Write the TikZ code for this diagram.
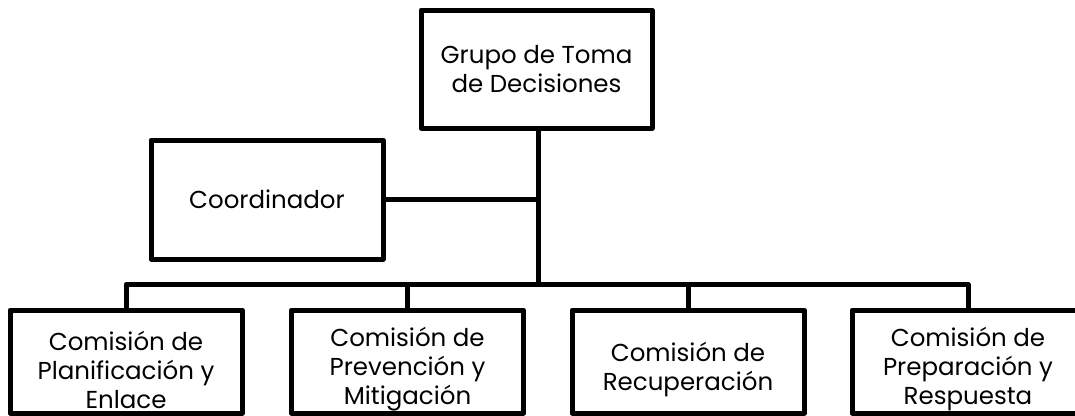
\documentclass[tikz,border=0pt]{standalone}
\usepackage{fontspec}
\setmainfont{Poppins}
\begin{document}
\begin{tikzpicture}[x=1pt,y=-1pt,
  box/.style={draw=black,line width=5pt,line join=round,fill=white,inner sep=0pt,align=center,
    font=\fontsize{24.5}{29}\selectfont},
  txt/.style={inner sep=0pt,align=center,font=\fontsize{24.5}{29}\selectfont},
  link/.style={draw=black,line width=5pt,line join=round}]
\useasboundingbox (0,0) rectangle (1075,415);
\node[box,minimum width=231pt,minimum height=118pt] (top) at (536.5,69) {Grupo de Toma\\de Decisiones};
\node[box,minimum width=232pt,minimum height=119pt] (coord) at (267,199.5) {Coordinador};
\node[box,minimum width=232pt,minimum height=103pt] (c1) at (126,361.5) {};
\node[box,minimum width=232pt,minimum height=103pt] (c2) at (407.5,361.5) {};
\node[box,minimum width=232pt,minimum height=103pt] (c3) at (688,361.5) {};
\node[box,minimum width=232pt,minimum height=103pt] (c4) at (968,361.5) {};
\node[txt] (t1) at ([yshift=-8pt]c1.center) {Comisión de\\Planificación y\\Enlace};
\node[txt] (t2) at ([yshift=-8pt]c2.center) {Comisión de\\Prevención y\\Mitigación};
\node[txt] (t3) at ([yshift=-8pt]c3.center) {Comisión de\\Recuperación};
\node[txt] (t4) at ([yshift=-8pt]c4.center) {Comisión de\\Preparación y\\Respuesta};
\coordinate (bus) at (538,284.5);
\draw[link] (top.south -| bus) -- (bus);
\draw[link] (coord.east) -- (coord.east -| bus);
\draw[link] (c1.north) |- (bus) -| (c4.north);
\draw[link] (c2.north) -- (c2.north |- bus);
\draw[link] (c3.north) -- (c3.north |- bus);
\end{tikzpicture}
\end{document}
